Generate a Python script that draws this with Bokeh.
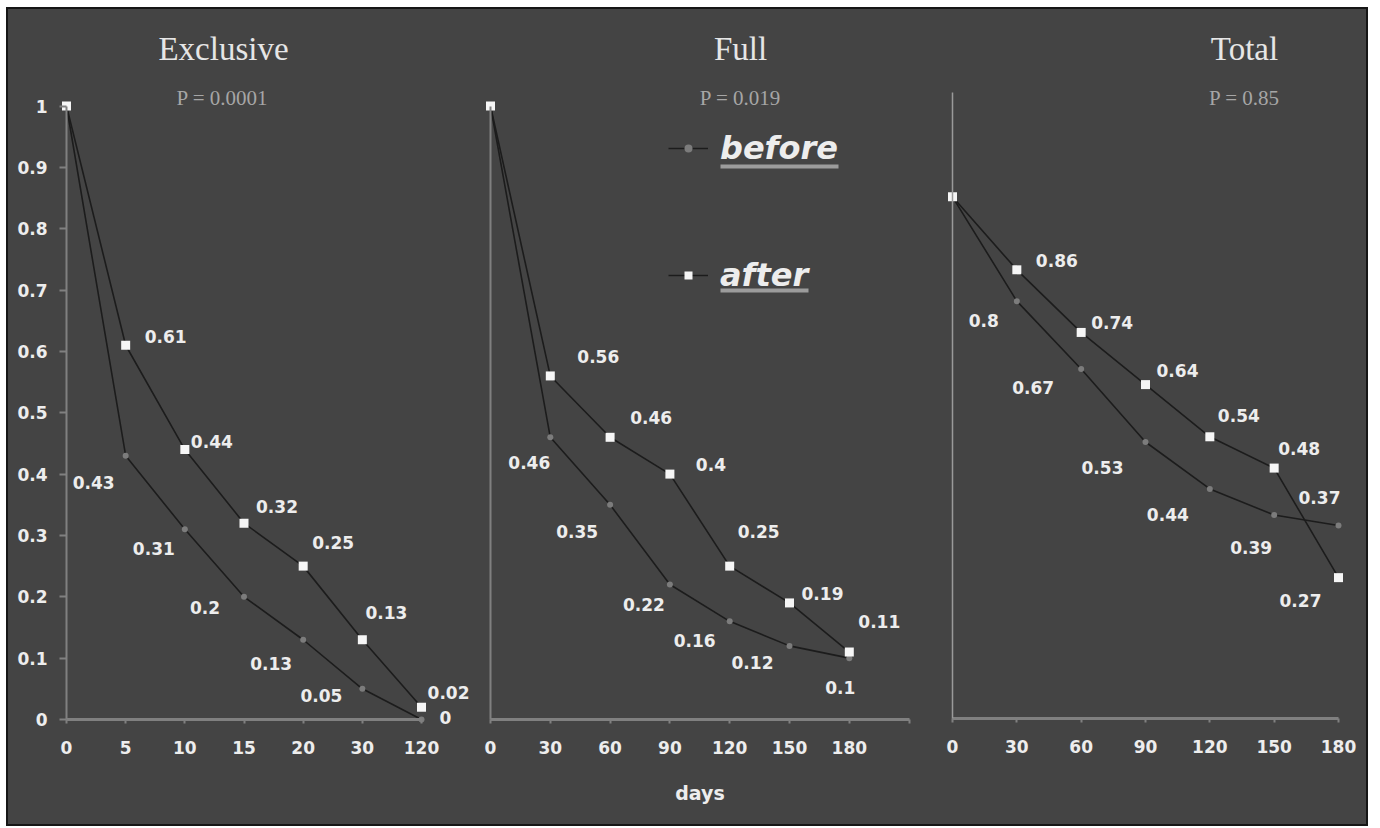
from bokeh.plotting import figure
from bokeh.layouts import row
from bokeh.models import (Range1d, FixedTicker, CustomJSTickFormatter, Label,
                          Legend, LegendItem, ColumnDataSource)
from bokeh.core.properties import value
from bokeh.embed import file_html
from bokeh.resources import INLINE

# ---------------- data ----------------
SERIES = ["before", "after"]
PANEL_TITLES = ["Exclusive", "Full", "Total"]
P_VALUES = ["P = 0.0001", "P = 0.019", "P = 0.85"]
X_LABEL = "days"

EXCL_DAYS = ["0", "5", "10", "15", "20", "30", "120"]
EXCL_BEFORE = [1, 0.43, 0.31, 0.2, 0.13, 0.05, 0]
EXCL_AFTER = [1, 0.61, 0.44, 0.32, 0.25, 0.13, 0.02]

FULL_DAYS = [0, 30, 60, 90, 120, 150, 180]
FULL_BEFORE = [1, 0.46, 0.35, 0.22, 0.16, 0.12, 0.1]
FULL_AFTER = [1, 0.56, 0.46, 0.4, 0.25, 0.19, 0.11]

TOTAL_DAYS = [0, 30, 60, 90, 120, 150, 180]
TOTAL_BEFORE = [1, 0.8, 0.67, 0.53, 0.44, 0.39, 0.37]
TOTAL_AFTER = [1, 0.86, 0.74, 0.64, 0.54, 0.48, 0.27]

Y_TICKS = [0, 0.1, 0.2, 0.3, 0.4, 0.5, 0.6, 0.7, 0.8, 0.9, 1]
Y_TICK_LABELS = ["0", "0.1", "0.2", "0.3", "0.4", "0.5", "0.6", "0.7", "0.8", "0.9", "1"]
FULL_TICKS = [0, 30, 60, 90, 120, 150, 180, 210]
FULL_TICK_LABELS = ["0", "30", "60", "90", "120", "150", "180", ""]
TOTAL_TICKS = [0, 30, 60, 90, 120, 150, 180]
TOTAL_TICK_LABELS = ["0", "30", "60", "90", "120", "150", "180"]

# ---------------- styles ----------------
BG = "#444444"
LINE_C = "#1c1c1c"
AXIS_C = "#808080"
TEXT_C = "#ededed"
TITLE_C = "#e6e6e6"
P_C = "#a6a6a6"
AFTER_C = "#f6f6f6"
BEFORE_C = "#7c7c7c"
FONT = "DejaVu Sans"

# label offsets (pixels, dx right, dy down) for points 1..6
EXCL_AFTER_OFF = [(40, -9), (27, -8), (33, -17), (30, -24), (24, -27), (27, -15)]
EXCL_BEFORE_OFF = [(-32, 27), (-31, 19), (-39, 11), (-32, 24), (-41, 7), (24, -2)]
FULL_AFTER_OFF = [(48, -19), (41, -20), (41, -10), (29, -35), (33, -9), (30, -31)]
FULL_BEFORE_OFF = [(-21, 25), (-33, 27), (-26, 20), (-35, 19), (-37, 17), (-9, 29)]
TOTAL_AFTER_OFF = [(40, -9), (31, -10), (32, -14), (29, -21), (25, -20), (-38, 23)]
TOTAL_BEFORE_OFF = [(-33, 19), (-48, 19), (-43, 26), (-42, 26), (-23, 32), (-19, -28)]

# page-pixel geometry of each panel
TOP, BOTTOM = 9, 824
GEOM = [
    dict(left=8, right=470, x0=66, xu=59.17, y0=719, yu=613.5),
    dict(left=470, right=930, x0=490, xu=59.8 / 30, y0=719, yu=613.5),
    dict(left=930, right=1366, x0=952, xu=386 / 180, y0=718, yu=521.7),
]

LOOKUP = ("let b = -1; for (let i = 0; i < tk.length; i++) "
          "{ if (Math.abs(tk[i] - tick) < 1e-6) b = i; } "
          "return b < 0 ? '' : lb[b];")


def px2x(g, px):
    return (px - g["x0"]) / g["xu"]


def px2y(g, py):
    return (g["y0"] - py) / g["yu"]


def make_fig(g):
    xr = Range1d(px2x(g, g["left"]), px2x(g, g["right"]))
    yr = Range1d(px2y(g, BOTTOM), px2y(g, TOP))
    p = figure(width=g["right"] - g["left"], height=BOTTOM - TOP,
               x_range=xr, y_range=yr, output_backend="svg",
               toolbar_location=None, min_border=0,
               background_fill_color=BG, border_fill_color=BG,
               outline_line_color=None)
    p.grid.visible = False
    for ax in p.axis:
        ax.fixed_location = 0
        ax.axis_line_color = AXIS_C
        ax.major_tick_line_color = AXIS_C
        ax.minor_tick_line_color = None
        ax.major_label_text_font = FONT
        ax.major_label_text_font_style = "bold"
        ax.major_label_text_font_size = "17px"
        ax.major_label_text_color = TEXT_C
    p.xaxis.axis_line_width = 3
    p.xaxis.major_tick_line_width = 2
    p.xaxis.major_tick_in = 0
    p.xaxis.major_tick_out = 4
    p.xaxis.major_label_standoff = 17
    p.yaxis.axis_line_width = 2
    p.yaxis.major_tick_line_width = 2
    p.yaxis.major_tick_in = 0
    p.yaxis.major_tick_out = 7
    p.yaxis.major_label_standoff = 12
    return p


def add_series(p, xs, ys, marker, size, color):
    ln = p.line(xs, ys, line_color=LINE_C, line_width=1.6)
    sc = p.scatter(xs, ys, marker=marker, size=size, fill_color=color, line_color=None)
    return ln, sc


def add_labels(p, xs, ys, offs):
    src = ColumnDataSource(dict(
        x=xs[1:], y=ys[1:], t=[f"{v:g}" for v in ys[1:]],
        dx=[o[0] for o in offs], dy=[o[1] for o in offs]))
    p.text(x="x", y="y", text="t", x_offset="dx", y_offset="dy", source=src,
           text_align="center", text_baseline="middle",
           text_font=value(FONT), text_font_style="bold",
           text_font_size="17px", text_color=TEXT_C)


def add_titles(p, g, i):
    p.add_layout(Label(x=px2x(g, [223, 740, 1244][i]), y=px2y(g, 48),
                       text=PANEL_TITLES[i], text_align="center", text_baseline="middle",
                       text_font="Liberation Serif", text_font_size="33px",
                       text_color=TITLE_C))
    p.add_layout(Label(x=px2x(g, [222, 740, 1244][i]), y=px2y(g, 97),
                       text=P_VALUES[i], text_align="center", text_baseline="middle",
                       text_font="Liberation Serif", text_font_size="21px",
                       text_color=P_C))


# ---------------- panel 1: Exclusive ----------------
g1 = GEOM[0]
p1 = make_fig(g1)
ex = list(range(len(EXCL_DAYS)))
add_series(p1, ex, EXCL_BEFORE, "circle", 6, BEFORE_C)
add_series(p1, ex, EXCL_AFTER, "square", 9, AFTER_C)
add_labels(p1, ex, EXCL_AFTER, EXCL_AFTER_OFF)
add_labels(p1, ex, EXCL_BEFORE, EXCL_BEFORE_OFF)
p1.xaxis.ticker = FixedTicker(ticks=ex)
p1.xaxis.formatter = CustomJSTickFormatter(args=dict(tk=ex, lb=EXCL_DAYS), code=LOOKUP)
p1.xaxis.bounds = (0, len(EXCL_DAYS) - 1)
p1.yaxis.ticker = FixedTicker(ticks=Y_TICKS)
p1.yaxis.formatter = CustomJSTickFormatter(args=dict(tk=Y_TICKS, lb=Y_TICK_LABELS), code=LOOKUP)
p1.yaxis.bounds = (0, 1)
add_titles(p1, g1, 0)

# ---------------- panel 2: Full ----------------
g2 = GEOM[1]
p2 = make_fig(g2)
lb_, sb_ = add_series(p2, FULL_DAYS, FULL_BEFORE, "circle", 6, BEFORE_C)
la_, sa_ = add_series(p2, FULL_DAYS, FULL_AFTER, "square", 9, AFTER_C)
add_labels(p2, FULL_DAYS, FULL_AFTER, FULL_AFTER_OFF)
add_labels(p2, FULL_DAYS, FULL_BEFORE, FULL_BEFORE_OFF)
p2.xaxis.ticker = FixedTicker(ticks=FULL_TICKS)
p2.xaxis.formatter = CustomJSTickFormatter(args=dict(tk=FULL_TICKS, lb=FULL_TICK_LABELS), code=LOOKUP)
p2.xaxis.bounds = (0, FULL_TICKS[-1])
p2.xaxis.axis_label = X_LABEL
p2.xaxis.axis_label_text_font = FONT
p2.xaxis.axis_label_text_font_style = "bold"
p2.xaxis.axis_label_text_font_size = "19px"
p2.xaxis.axis_label_text_color = TEXT_C
p2.xaxis.axis_label_standoff = 25
p2.yaxis.ticker = FixedTicker(ticks=[])
p2.yaxis.bounds = (0, 1)
add_titles(p2, g2, 1)

legend = Legend(items=[LegendItem(label=SERIES[0], renderers=[lb_, sb_]),
                       LegendItem(label=SERIES[1], renderers=[la_, sa_])],
                location=(198, BOTTOM - 294), orientation="vertical",
                background_fill_alpha=0, border_line_color=None,
                padding=0, margin=0, spacing=89,
                glyph_width=40, glyph_height=20, label_height=36, label_standoff=12,
                label_text_font=FONT, label_text_font_style="bold italic",
                label_text_font_size="32px", label_text_color=TEXT_C)
p2.add_layout(legend)
# underline decoration of the legend labels
p2.segment(x0=[px2x(g2, 720), px2x(g2, 720)], y0=[px2y(g2, 166), px2y(g2, 290)],
           x1=[px2x(g2, 838), px2x(g2, 808)], y1=[px2y(g2, 166), px2y(g2, 290)],
           line_color="#9c9c9c", line_width=4)

# ---------------- panel 3: Total ----------------
g3 = GEOM[2]
p3 = make_fig(g3)
add_series(p3, TOTAL_DAYS, TOTAL_BEFORE, "circle", 6, BEFORE_C)
add_series(p3, TOTAL_DAYS, TOTAL_AFTER, "square", 9, AFTER_C)
add_labels(p3, TOTAL_DAYS, TOTAL_AFTER, TOTAL_AFTER_OFF)
add_labels(p3, TOTAL_DAYS, TOTAL_BEFORE, TOTAL_BEFORE_OFF)
p3.xaxis.ticker = FixedTicker(ticks=TOTAL_TICKS)
p3.xaxis.formatter = CustomJSTickFormatter(args=dict(tk=TOTAL_TICKS, lb=TOTAL_TICK_LABELS), code=LOOKUP)
p3.xaxis.bounds = (0, TOTAL_TICKS[-1])
p3.yaxis.ticker = FixedTicker(ticks=[])
p3.yaxis.bounds = (0, 1.2)
p3.yaxis.axis_line_width = 1.5
p3.yaxis.axis_line_color = "#9a9a9a"
add_titles(p3, g3, 2)

layout = row(p1, p2, p3, spacing=0,
             styles={"border": "2px solid #161616", "background-color": BG,
                     "margin-left": "6px", "margin-top": "7px"})

open("out.html", "w").write(file_html(layout, INLINE))
